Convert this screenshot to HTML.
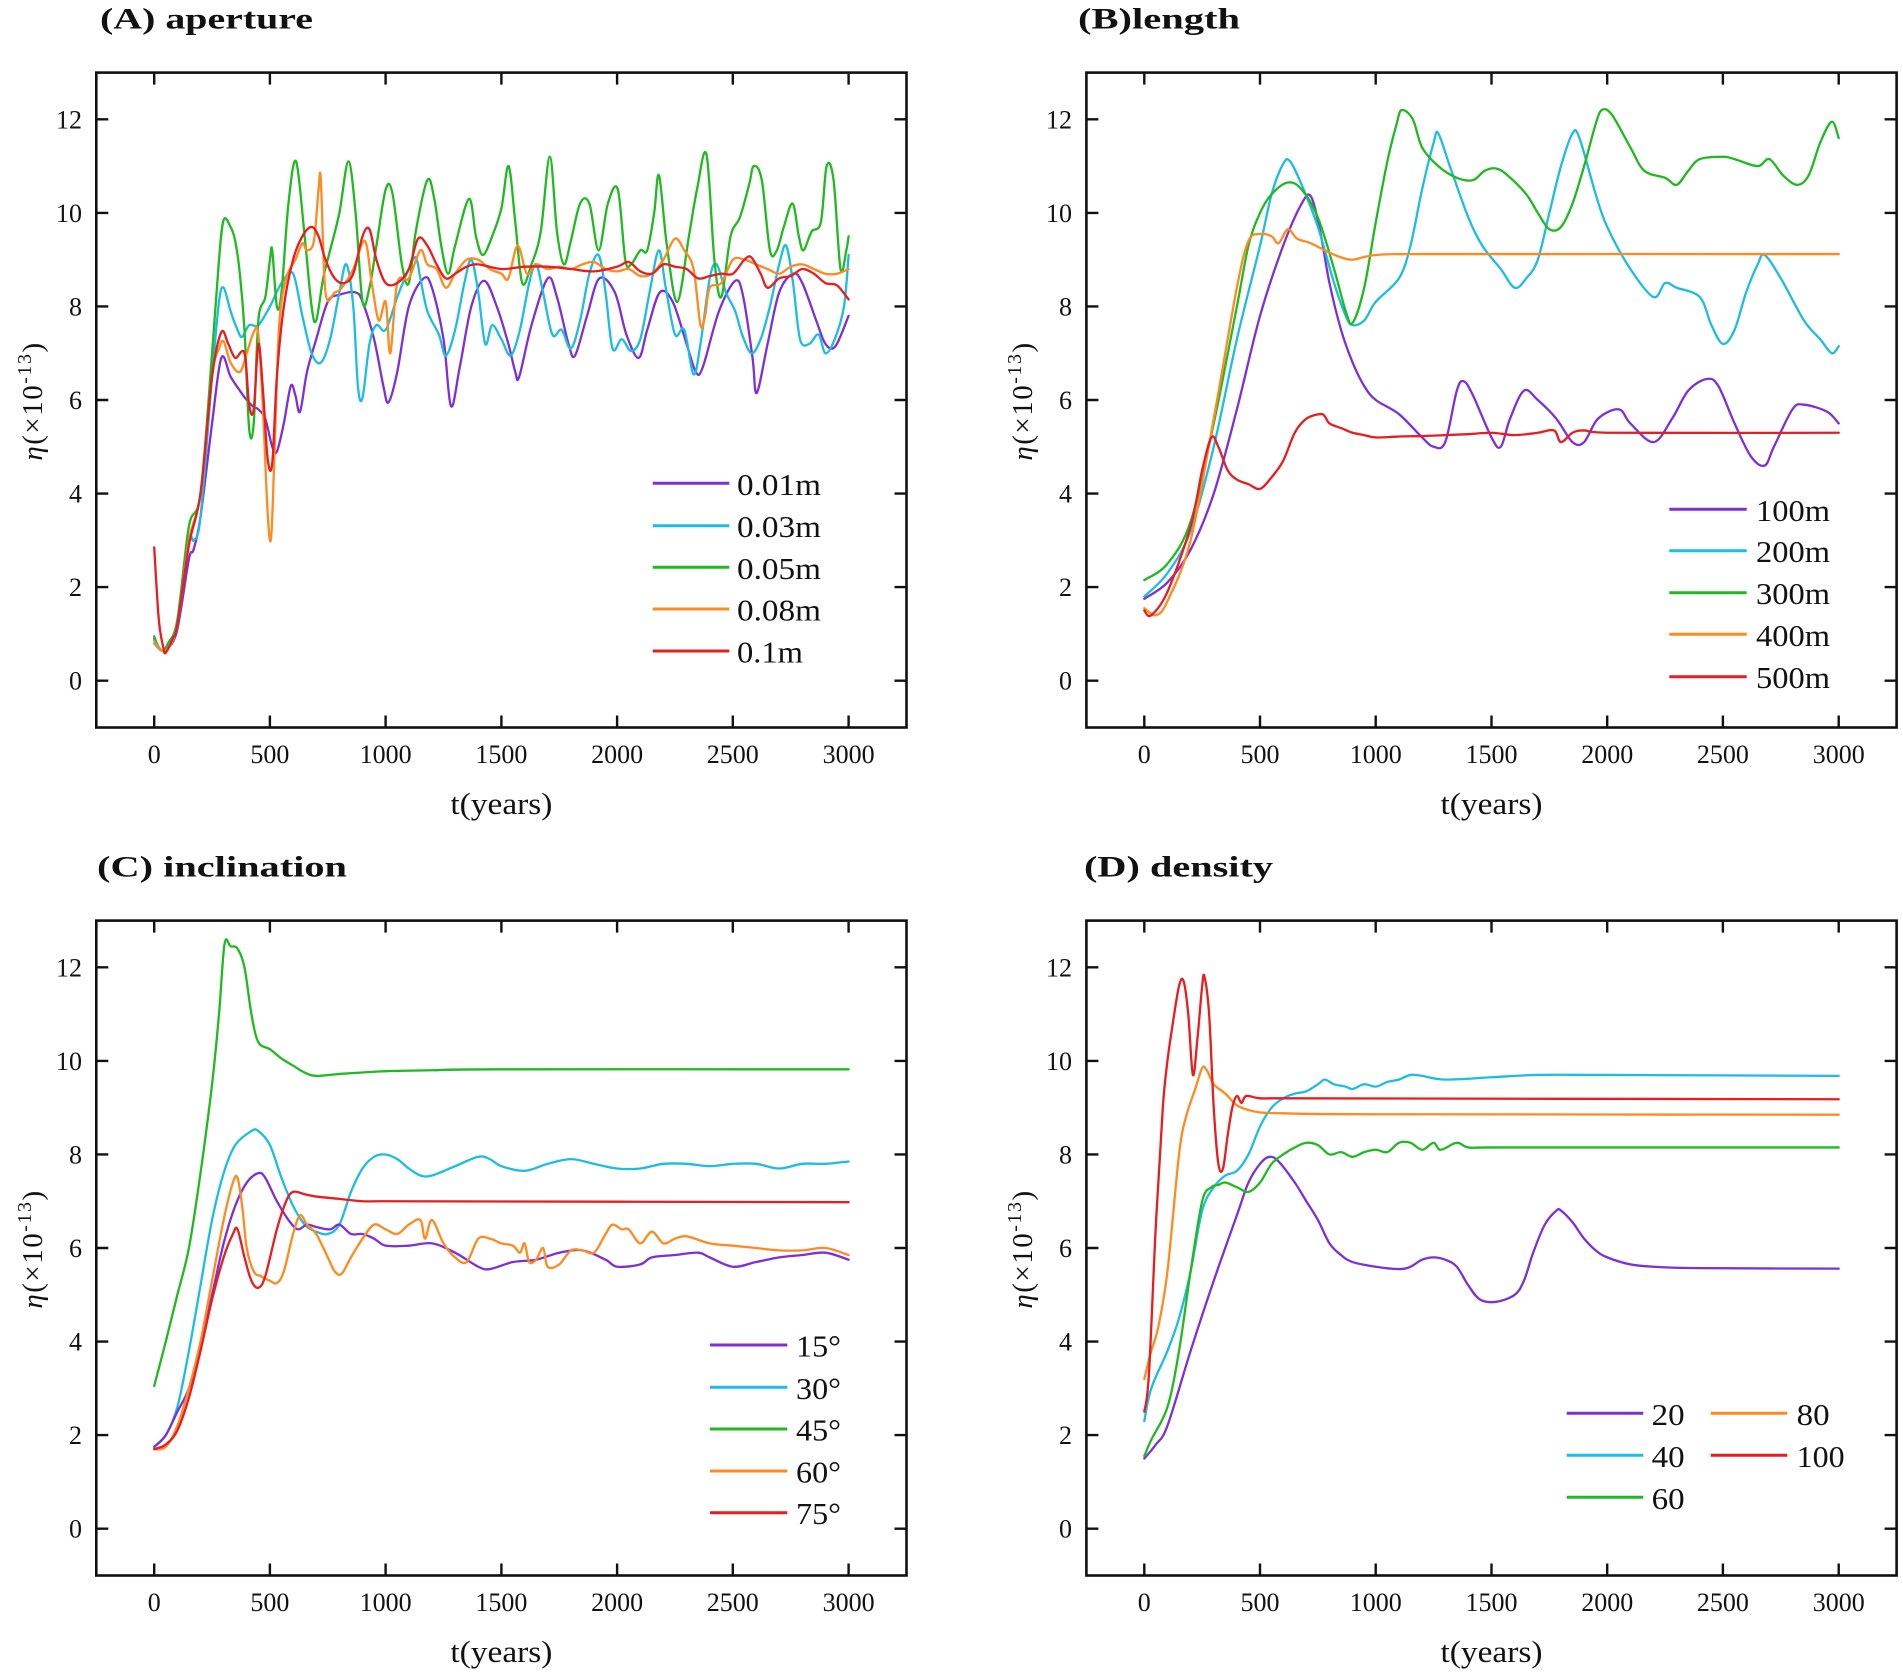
<!DOCTYPE html>
<html>
<head>
<meta charset="utf-8">
<style>
html,body{margin:0;padding:0;background:#fff;}
svg{display:block;}
text{font-family:"Liberation Serif","Times New Roman",serif;fill:#111;}
.ax{fill:none;stroke:#111;stroke-width:2.6;}
.tk{stroke:#111;stroke-width:2.4;}
.c{fill:none;stroke-width:2.3;stroke-linejoin:round;stroke-linecap:round;vector-effect:non-scaling-stroke;}
.lg{stroke-width:3;}
.pu{stroke:#7d2fd8;}
.cy{stroke:#1cbde2;}
.gr{stroke:#1fba1f;}
.or{stroke:#ff8a1f;}
.rd{stroke:#e91c1f;}
.tl{font-size:26px;}
.lt{font-size:31px;}
.ti{font-size:30px;font-weight:bold;}
</style>
</head>
<body>
<svg width="1903" height="1677" viewBox="0 0 1903 1677" xmlns="http://www.w3.org/2000/svg">

<text class="ti" x="100" y="28.5" textLength="213" lengthAdjust="spacingAndGlyphs">(A) aperture</text>
<text class="ti" x="1078" y="28.5" textLength="162" lengthAdjust="spacingAndGlyphs">(B)length</text>
<text class="ti" x="97" y="876.5" textLength="250" lengthAdjust="spacingAndGlyphs">(C) inclination</text>
<text class="ti" x="1084" y="876.5" textLength="189" lengthAdjust="spacingAndGlyphs">(D) density</text>

<rect class="ax" x="96.3" y="72.6" width="810.2" height="654.9"/>
<rect class="ax" x="1086.4" y="72.6" width="810.2" height="654.9"/>
<rect class="ax" x="96.3" y="920.6" width="810.2" height="654.9"/>
<rect class="ax" x="1086.4" y="920.6" width="810.2" height="654.9"/>

<g class="tk">
<path d="M154.2 727.5v-12M269.9 727.5v-12M385.6 727.5v-12M501.4 727.5v-12M617.1 727.5v-12M732.8 727.5v-12M848.6 727.5v-12
M154.2 72.6v12M269.9 72.6v12M385.6 72.6v12M501.4 72.6v12M617.1 72.6v12M732.8 72.6v12M848.6 72.6v12
M96.3 680.7h12M96.3 587.1h12M96.3 493.6h12M96.3 400h12M96.3 306.4h12M96.3 212.9h12M96.3 119.3h12
M906.5 680.7h-12M906.5 587.1h-12M906.5 493.6h-12M906.5 400h-12M906.5 306.4h-12M906.5 212.9h-12M906.5 119.3h-12"/>
<path d="M1144.3 727.5v-12M1260 727.5v-12M1375.7 727.5v-12M1491.5 727.5v-12M1607.2 727.5v-12M1722.9 727.5v-12M1838.7 727.5v-12
M1144.3 72.6v12M1260 72.6v12M1375.7 72.6v12M1491.5 72.6v12M1607.2 72.6v12M1722.9 72.6v12M1838.7 72.6v12
M1086.4 680.7h12M1086.4 587.1h12M1086.4 493.6h12M1086.4 400h12M1086.4 306.4h12M1086.4 212.9h12M1086.4 119.3h12
M1896.6 680.7h-12M1896.6 587.1h-12M1896.6 493.6h-12M1896.6 400h-12M1896.6 306.4h-12M1896.6 212.9h-12M1896.6 119.3h-12"/>
<path d="M154.2 1575.5v-12M269.9 1575.5v-12M385.6 1575.5v-12M501.4 1575.5v-12M617.1 1575.5v-12M732.8 1575.5v-12M848.6 1575.5v-12
M154.2 920.6v12M269.9 920.6v12M385.6 920.6v12M501.4 920.6v12M617.1 920.6v12M732.8 920.6v12M848.6 920.6v12
M96.3 1528.7h12M96.3 1435.1h12M96.3 1341.6h12M96.3 1248h12M96.3 1154.4h12M96.3 1060.9h12M96.3 967.3h12
M906.5 1528.7h-12M906.5 1435.1h-12M906.5 1341.6h-12M906.5 1248h-12M906.5 1154.4h-12M906.5 1060.9h-12M906.5 967.3h-12"/>
<path d="M1144.3 1575.5v-12M1260 1575.5v-12M1375.7 1575.5v-12M1491.5 1575.5v-12M1607.2 1575.5v-12M1722.9 1575.5v-12M1838.7 1575.5v-12
M1144.3 920.6v12M1260 920.6v12M1375.7 920.6v12M1491.5 920.6v12M1607.2 920.6v12M1722.9 920.6v12M1838.7 920.6v12
M1086.4 1528.7h12M1086.4 1435.1h12M1086.4 1341.6h12M1086.4 1248h12M1086.4 1154.4h12M1086.4 1060.9h12M1086.4 967.3h12
M1896.6 1528.7h-12M1896.6 1435.1h-12M1896.6 1341.6h-12M1896.6 1248h-12M1896.6 1154.4h-12M1896.6 1060.9h-12M1896.6 967.3h-12"/>
</g>

<g class="tl" text-anchor="middle">
<text x="154.2" y="763">0</text><text x="269.9" y="763">500</text><text x="385.6" y="763">1000</text><text x="501.4" y="763">1500</text><text x="617.1" y="763">2000</text><text x="732.8" y="763">2500</text><text x="848.6" y="763">3000</text>
<text x="1144.3" y="763">0</text><text x="1260" y="763">500</text><text x="1375.7" y="763">1000</text><text x="1491.5" y="763">1500</text><text x="1607.2" y="763">2000</text><text x="1722.9" y="763">2500</text><text x="1838.7" y="763">3000</text>
<text x="154.2" y="1611">0</text><text x="269.9" y="1611">500</text><text x="385.6" y="1611">1000</text><text x="501.4" y="1611">1500</text><text x="617.1" y="1611">2000</text><text x="732.8" y="1611">2500</text><text x="848.6" y="1611">3000</text>
<text x="1144.3" y="1611">0</text><text x="1260" y="1611">500</text><text x="1375.7" y="1611">1000</text><text x="1491.5" y="1611">1500</text><text x="1607.2" y="1611">2000</text><text x="1722.9" y="1611">2500</text><text x="1838.7" y="1611">3000</text>
</g>
<g class="tl" text-anchor="end">
<text x="82" y="689.7">0</text><text x="82" y="596.1">2</text><text x="82" y="502.6">4</text><text x="82" y="409">6</text><text x="82" y="315.4">8</text><text x="82" y="221.9">10</text><text x="82" y="128.3">12</text>
<text x="1072" y="689.7">0</text><text x="1072" y="596.1">2</text><text x="1072" y="502.6">4</text><text x="1072" y="409">6</text><text x="1072" y="315.4">8</text><text x="1072" y="221.9">10</text><text x="1072" y="128.3">12</text>
<text x="82" y="1537.7">0</text><text x="82" y="1444.1">2</text><text x="82" y="1350.6">4</text><text x="82" y="1257">6</text><text x="82" y="1163.4">8</text><text x="82" y="1069.9">10</text><text x="82" y="976.3">12</text>
<text x="1072" y="1537.7">0</text><text x="1072" y="1444.1">2</text><text x="1072" y="1350.6">4</text><text x="1072" y="1257">6</text><text x="1072" y="1163.4">8</text><text x="1072" y="1069.9">10</text><text x="1072" y="976.3">12</text>
</g>

<g font-size="31" text-anchor="middle">
<text x="501.4" y="814" textLength="102" lengthAdjust="spacingAndGlyphs">t(years)</text>
<text x="1491.5" y="814" textLength="102" lengthAdjust="spacingAndGlyphs">t(years)</text>
<text x="501.4" y="1662" textLength="102" lengthAdjust="spacingAndGlyphs">t(years)</text>
<text x="1491.5" y="1662" textLength="102" lengthAdjust="spacingAndGlyphs">t(years)</text>
</g>
<g font-size="29" text-anchor="middle" letter-spacing="1.5">
<text transform="translate(42,401) rotate(-90)"><tspan font-style="italic">η</tspan>(×10<tspan dy="-11" font-size="20">-13</tspan><tspan dy="11">)</tspan></text>
<text transform="translate(1032,401) rotate(-90)"><tspan font-style="italic">η</tspan>(×10<tspan dy="-11" font-size="20">-13</tspan><tspan dy="11">)</tspan></text>
<text transform="translate(42,1249) rotate(-90)"><tspan font-style="italic">η</tspan>(×10<tspan dy="-11" font-size="20">-13</tspan><tspan dy="11">)</tspan></text>
<text transform="translate(1032,1249) rotate(-90)"><tspan font-style="italic">η</tspan>(×10<tspan dy="-11" font-size="20">-13</tspan><tspan dy="11">)</tspan></text>
</g>

<g transform="translate(154.2,680.7) scale(0.23147,-46.78)">
<polyline class="c pu" points="0,0.9 30,0.65 60,0.7 100,1.1 150,2.6 170,2.8 200,3.5 250,5.5 290,6.9 330,6.5 370,6.2 400,6.0 430,5.85 450,5.8 480,5.6 510,5.0 530,4.9 560,5.5 590,6.3 610,6.1 630,5.75 660,6.6 700,7.3 750,8.1 800,8.25 870,8.3 900,8.1 950,7.3 990,6.3 1012,5.95 1050,6.6 1100,8.0 1164,8.6 1200,8.4 1250,7.3 1282,5.87 1320,6.7 1370,8.0 1425,8.55 1480,8.0 1530,7.2 1560,6.6 1577,6.5 1630,7.6 1700,8.6 1740,8.2 1790,7.2 1818,6.95 1870,7.8 1923,8.6 1990,8.3 2040,7.4 2093,6.9 2130,7.5 2184,8.3 2240,8.1 2300,7.2 2340,6.6 2370,6.7 2440,7.9 2511,8.55 2545,8.2 2585,6.9 2603,6.15 2650,7.2 2700,8.3 2760,8.7 2800,8.5 2860,7.7 2900,7.2 2943,7.15 3000,7.8"/>
<polyline class="c cy" points="0,0.8 30,0.65 60,0.7 100,1.2 150,3.0 170,3.0 200,3.5 250,6.5 280,8.1 300,8.4 330,7.9 360,7.5 380,7.35 410,7.6 450,7.6 500,8.0 550,8.5 600,8.7 640,7.8 680,7.0 720,6.8 760,7.3 800,8.3 830,8.9 860,8.0 880,6.3 900,6.05 930,7.2 960,7.6 1000,7.5 1050,8.2 1100,8.8 1130,9.05 1150,8.6 1180,7.9 1230,7.4 1260,6.95 1300,7.5 1340,8.5 1370,9.0 1400,8.3 1430,7.2 1460,7.6 1500,7.3 1540,6.95 1580,7.5 1620,8.5 1650,8.9 1680,8.3 1720,7.4 1760,7.5 1800,7.1 1840,7.7 1880,8.7 1920,9.1 1950,8.3 1980,7.1 2020,7.3 2060,7.05 2100,7.3 2140,8.3 2180,9.2 2210,8.4 2250,7.4 2290,7.5 2330,6.55 2360,7.2 2400,8.6 2430,8.9 2470,8.3 2510,7.9 2540,7.4 2580,7.0 2620,7.3 2660,8.0 2700,8.9 2730,9.3 2760,8.5 2790,7.3 2830,7.2 2870,7.4 2900,7.0 2940,7.3 2980,8.0 3000,9.1"/>
<polyline class="c gr" points="0,0.95 20,0.7 40,0.65 60,0.8 100,1.3 150,3.3 200,4.0 250,7.0 280,9.0 300,9.85 330,9.7 350,9.4 370,8.7 390,7.5 410,5.4 430,5.5 450,7.7 480,8.2 500,9.0 510,9.2 530,8.0 550,8.3 580,10.2 613,11.1 650,9.5 680,8.0 700,7.7 730,8.6 760,9.2 800,10.0 839,11.1 870,10.0 900,8.1 930,8.4 960,9.3 1000,10.5 1030,10.4 1070,8.9 1100,8.5 1130,9.6 1180,10.7 1210,10.3 1240,9.3 1270,8.7 1300,9.3 1360,10.3 1390,9.5 1420,9.1 1460,9.5 1500,10.1 1531,11.0 1560,9.8 1590,8.5 1630,8.9 1670,9.6 1709,11.2 1740,9.6 1770,8.9 1800,9.4 1840,10.2 1880,10.2 1920,9.2 1960,10.2 2003,10.5 2035,9.0 2060,8.9 2100,9.2 2130,9.2 2160,10.0 2181,10.8 2215,9.3 2260,8.1 2310,9.5 2345,10.5 2386,11.25 2420,9.0 2450,8.2 2490,9.5 2530,9.9 2570,10.6 2590,11.0 2625,10.7 2660,9.2 2690,9.2 2720,9.7 2758,10.2 2785,9.5 2805,9.2 2840,9.6 2880,9.8 2905,11.0 2935,10.7 2965,8.8 2990,9.2 3000,9.5"/>
<polyline class="c or" points="0,0.85 30,0.65 60,0.7 100,1.2 150,3.0 200,4.0 250,6.5 280,7.1 300,7.25 330,6.8 370,6.6 400,7.0 430,7.45 450,7.4 470,5.8 490,3.6 505,3.05 520,4.9 540,7.6 570,8.6 610,9.0 640,9.35 660,9.2 690,9.4 710,10.5 720,10.7 740,8.3 780,8.3 810,8.4 860,8.8 910,9.4 940,8.5 970,7.7 1000,8.1 1020,7.0 1050,8.5 1100,8.6 1150,9.2 1180,8.9 1220,8.8 1260,8.4 1300,8.7 1350,9.0 1400,9.0 1450,8.8 1500,8.7 1530,8.6 1570,9.3 1610,8.7 1650,8.9 1700,8.8 1750,8.85 1800,8.8 1850,8.9 1900,8.95 1950,8.8 2000,8.75 2050,8.8 2100,8.65 2150,8.7 2200,9.0 2250,9.45 2290,9.2 2330,8.8 2360,7.6 2380,7.8 2400,8.4 2450,8.5 2500,9.0 2550,9.0 2600,8.9 2650,8.8 2700,8.7 2750,8.85 2800,8.9 2850,8.8 2900,8.7 2950,8.7 3000,8.8"/>
<polyline class="c rd" points="0,2.85 20,1.3 40,0.7 50,0.6 80,0.9 100,1.2 150,2.9 200,4.0 250,6.5 290,7.45 320,7.2 350,6.9 390,7.0 410,5.9 430,5.8 450,7.2 470,6.2 490,4.75 510,4.65 530,6.5 560,8.0 600,9.0 640,9.5 680,9.7 710,9.5 740,9.0 780,8.6 820,8.5 860,8.7 900,9.5 930,9.65 960,9.0 1000,8.5 1050,8.5 1100,8.8 1140,9.45 1180,9.3 1220,8.9 1260,8.6 1300,8.7 1350,8.85 1400,8.9 1500,8.8 1600,8.85 1700,8.85 1800,8.8 1900,8.75 2000,8.85 2050,8.95 2100,8.75 2150,8.7 2200,8.9 2250,8.85 2300,8.8 2350,8.6 2400,8.65 2450,8.7 2500,8.7 2550,9.0 2580,9.05 2620,8.7 2650,8.4 2700,8.6 2750,8.65 2800,8.8 2850,8.7 2900,8.5 2950,8.45 3000,8.15"/>
</g>

<g transform="translate(1144.3,680.7) scale(0.23147,-46.78)">
<polyline class="c pu" points="0,1.75 100,2.1 200,2.8 300,4.0 400,5.8 500,7.8 600,9.3 680,10.2 720,10.35 760,9.6 800,8.5 850,7.5 900,6.8 950,6.3 1000,6.0 1100,5.7 1200,5.2 1250,5.0 1300,5.1 1350,6.2 1380,6.4 1420,6.1 1500,5.2 1540,5.0 1580,5.6 1640,6.2 1700,6.0 1780,5.6 1850,5.1 1900,5.1 1960,5.6 2050,5.8 2100,5.5 2200,5.1 2280,5.6 2350,6.2 2430,6.45 2480,6.3 2550,5.5 2620,4.8 2680,4.6 2720,5.0 2800,5.8 2850,5.9 2950,5.75 3000,5.5"/>
<polyline class="c cy" points="0,1.8 100,2.3 200,3.2 300,5.0 400,7.3 500,9.3 550,10.4 600,11.05 630,11.1 680,10.6 750,9.7 820,8.5 870,7.8 900,7.6 950,7.7 1000,8.1 1100,8.6 1150,9.3 1200,10.5 1250,11.5 1270,11.7 1320,11.0 1400,9.9 1460,9.3 1540,8.8 1600,8.4 1650,8.6 1700,9.0 1750,10.0 1800,11.0 1850,11.7 1880,11.6 1950,10.4 2000,9.7 2100,8.8 2200,8.2 2250,8.5 2300,8.4 2400,8.2 2450,7.6 2500,7.2 2550,7.5 2600,8.3 2650,8.9 2680,9.1 2750,8.6 2850,7.7 2920,7.3 2970,7.0 3000,7.15"/>
<polyline class="c gr" points="0,2.15 100,2.5 200,3.4 300,5.5 400,8.0 450,9.3 500,10.0 550,10.4 620,10.65 680,10.5 750,9.9 820,8.8 870,7.9 900,7.65 950,8.4 1000,9.8 1050,11.1 1090,11.9 1112,12.2 1160,12.0 1200,11.4 1270,11.0 1350,10.75 1420,10.7 1470,10.9 1520,10.95 1570,10.8 1650,10.4 1700,10.0 1750,9.65 1800,9.7 1850,10.2 1900,11.0 1950,11.9 1977,12.2 2020,12.1 2100,11.4 2160,10.9 2250,10.75 2300,10.6 2350,10.9 2400,11.15 2500,11.2 2550,11.15 2650,11.0 2700,11.15 2760,10.8 2820,10.6 2870,10.8 2920,11.5 2970,11.95 3000,11.6"/>
<polyline class="c or" points="0,1.55 50,1.4 100,1.7 200,3.0 300,5.6 400,8.4 450,9.4 500,9.55 550,9.5 580,9.35 620,9.65 660,9.45 720,9.35 800,9.15 850,9.05 900,9.0 1000,9.1 1200,9.12 3000,9.12"/>
<polyline class="c rd" points="0,1.5 30,1.4 100,1.9 200,3.3 250,4.5 290,5.2 320,5.0 360,4.5 400,4.3 450,4.2 500,4.1 550,4.35 600,4.7 650,5.3 700,5.6 760,5.7 780,5.65 800,5.5 850,5.4 900,5.3 950,5.25 1000,5.2 1100,5.22 1200,5.23 1300,5.25 1400,5.27 1500,5.3 1600,5.25 1700,5.3 1770,5.35 1800,5.1 1850,5.3 1900,5.35 2000,5.3 3000,5.3"/>
</g>

<g transform="translate(154.2,1528.7) scale(0.23147,-46.78)">
<polyline class="c gr" points="0,3.05 50,4.0 100,5.0 150,6.0 200,7.6 250,9.5 280,11.0 304,12.5 330,12.45 360,12.4 390,12.0 420,11.0 450,10.4 500,10.25 550,10.05 600,9.9 650,9.75 700,9.68 800,9.72 1000,9.78 1200,9.8 1500,9.82 3000,9.82"/>
<polyline class="c cy" points="0,1.75 50,2.0 100,2.6 150,3.8 200,5.2 250,6.6 300,7.6 350,8.2 420,8.5 450,8.5 500,8.2 550,7.5 600,6.9 650,6.5 700,6.35 750,6.3 800,6.5 850,7.2 900,7.7 950,7.95 1000,8.0 1050,7.9 1100,7.7 1150,7.55 1200,7.55 1300,7.75 1400,7.95 1450,7.9 1500,7.75 1600,7.65 1700,7.8 1800,7.9 1900,7.8 2000,7.7 2100,7.7 2200,7.8 2300,7.8 2400,7.75 2500,7.8 2600,7.8 2700,7.7 2800,7.8 2900,7.8 3000,7.85"/>
<polyline class="c pu" points="0,1.75 50,2.0 100,2.5 150,3.0 200,3.9 250,5.0 300,6.1 350,6.9 400,7.4 450,7.6 480,7.5 530,7.0 580,6.6 620,6.4 660,6.5 700,6.45 760,6.4 800,6.5 850,6.3 900,6.3 950,6.2 1000,6.05 1100,6.05 1200,6.1 1300,5.9 1400,5.6 1450,5.55 1550,5.7 1650,5.75 1750,5.9 1850,5.95 1950,5.75 2000,5.6 2100,5.65 2150,5.8 2250,5.85 2350,5.9 2400,5.8 2500,5.6 2600,5.7 2700,5.8 2800,5.85 2900,5.9 3000,5.75"/>
<polyline class="c or" points="0,1.7 50,1.75 100,2.2 150,3.0 200,4.0 250,5.3 300,6.6 340,7.4 360,7.5 380,6.9 400,6.0 430,5.5 460,5.4 500,5.3 530,5.25 560,5.5 600,6.3 630,6.7 660,6.5 700,6.3 750,5.8 780,5.5 810,5.45 850,5.8 900,6.2 950,6.5 1000,6.4 1050,6.3 1100,6.5 1150,6.6 1170,6.2 1200,6.6 1250,6.1 1300,5.8 1350,5.7 1400,6.2 1450,6.2 1500,6.1 1550,6.05 1580,5.9 1600,6.1 1620,5.7 1650,5.75 1680,6.0 1700,5.6 1750,5.65 1800,5.95 1850,5.95 1900,5.9 1950,6.3 1980,6.5 2020,6.4 2050,6.4 2100,6.1 2150,6.35 2200,6.1 2250,6.2 2300,6.25 2400,6.1 2500,6.05 2600,6.0 2700,5.95 2800,5.95 2900,6.0 3000,5.85"/>
<polyline class="c rd" points="0,1.7 50,1.8 100,2.1 150,2.8 200,3.8 250,4.9 300,5.8 340,6.3 360,6.4 390,5.8 420,5.3 450,5.15 480,5.4 530,6.4 570,7.0 600,7.2 650,7.15 700,7.1 800,7.05 900,7.0 1000,7.0 3000,6.98"/>
</g>

<g transform="translate(1144.3,1528.7) scale(0.23147,-46.78)">
<polyline class="c pu" points="0,1.5 50,1.8 100,2.2 200,3.8 300,5.3 400,6.7 450,7.4 500,7.8 540,7.95 580,7.85 650,7.4 700,7.0 750,6.6 800,6.1 850,5.85 900,5.7 1000,5.6 1100,5.55 1150,5.6 1200,5.75 1250,5.8 1300,5.75 1350,5.6 1400,5.2 1450,4.9 1520,4.85 1600,5.0 1640,5.3 1680,5.9 1730,6.5 1780,6.8 1800,6.8 1850,6.55 1900,6.2 1950,5.95 2000,5.8 2100,5.65 2200,5.6 2400,5.57 3000,5.56"/>
<polyline class="c cy" points="0,2.3 30,3.0 100,3.8 150,4.5 200,5.5 250,6.8 300,7.3 350,7.55 400,7.65 450,8.0 500,8.6 550,9.0 600,9.2 650,9.3 700,9.35 750,9.5 780,9.6 820,9.5 870,9.45 900,9.4 950,9.5 1000,9.45 1050,9.55 1100,9.6 1150,9.7 1200,9.68 1300,9.6 1500,9.65 1700,9.7 2000,9.7 3000,9.68"/>
<polyline class="c gr" points="0,1.55 30,1.9 100,2.6 150,3.8 200,5.5 250,7.0 290,7.3 320,7.35 350,7.4 400,7.3 450,7.2 500,7.4 550,7.8 600,8.0 650,8.15 700,8.25 750,8.2 800,8.0 850,8.05 900,7.95 950,8.05 1000,8.1 1050,8.05 1100,8.25 1150,8.25 1200,8.1 1250,8.25 1280,8.1 1350,8.25 1400,8.15 1500,8.15 2000,8.15 3000,8.15"/>
<polyline class="c or" points="0,3.2 30,3.8 60,4.3 100,5.5 150,8.0 180,8.8 220,9.4 250,9.85 270,9.8 300,9.5 350,9.3 400,9.05 450,8.95 500,8.9 600,8.88 1000,8.86 3000,8.85"/>
<polyline class="c rd" points="0,2.5 20,3.3 50,6.5 80,9.0 100,10.0 120,10.7 150,11.6 170,11.7 190,11.0 210,9.7 230,10.5 250,11.6 260,11.8 280,11.0 300,9.0 320,7.8 340,7.7 360,8.4 380,9.0 400,9.25 420,9.1 440,9.25 500,9.2 600,9.2 3000,9.18"/>
</g>

<line class="lg pu" x1="652.7" y1="483.3" x2="729.3" y2="483.3"/>
<line class="lg cy" x1="652.7" y1="525.7" x2="729.3" y2="525.7"/>
<line class="lg gr" x1="652.7" y1="567.3" x2="729.3" y2="567.3"/>
<line class="lg or" x1="652.7" y1="609" x2="729.3" y2="609"/>
<line class="lg rd" x1="652.7" y1="651" x2="729.3" y2="651"/>
<g class="lt">
<text x="737" y="494.8" textLength="84" lengthAdjust="spacingAndGlyphs">0.01m</text>
<text x="737" y="537.2" textLength="84" lengthAdjust="spacingAndGlyphs">0.03m</text>
<text x="737" y="578.8" textLength="84" lengthAdjust="spacingAndGlyphs">0.05m</text>
<text x="737" y="620.5" textLength="84" lengthAdjust="spacingAndGlyphs">0.08m</text>
<text x="737" y="662.5" textLength="66" lengthAdjust="spacingAndGlyphs">0.1m</text>
</g>
<line class="lg pu" x1="1669.3" y1="509.3" x2="1746.7" y2="509.3"/>
<line class="lg cy" x1="1669.3" y1="550.7" x2="1746.7" y2="550.7"/>
<line class="lg gr" x1="1669.3" y1="592.7" x2="1746.7" y2="592.7"/>
<line class="lg or" x1="1669.3" y1="634.3" x2="1746.7" y2="634.3"/>
<line class="lg rd" x1="1669.3" y1="676.7" x2="1746.7" y2="676.7"/>
<g class="lt">
<text x="1756" y="520.8" textLength="74" lengthAdjust="spacingAndGlyphs">100m</text>
<text x="1756" y="562.2" textLength="74" lengthAdjust="spacingAndGlyphs">200m</text>
<text x="1756" y="604.2" textLength="74" lengthAdjust="spacingAndGlyphs">300m</text>
<text x="1756" y="645.8" textLength="74" lengthAdjust="spacingAndGlyphs">400m</text>
<text x="1756" y="688.2" textLength="74" lengthAdjust="spacingAndGlyphs">500m</text>
</g>
<line class="lg pu" x1="710" y1="1345" x2="787.3" y2="1345"/>
<line class="lg cy" x1="710" y1="1387.3" x2="787.3" y2="1387.3"/>
<line class="lg gr" x1="710" y1="1429" x2="787.3" y2="1429"/>
<line class="lg or" x1="710" y1="1471" x2="787.3" y2="1471"/>
<line class="lg rd" x1="710" y1="1512.7" x2="787.3" y2="1512.7"/>
<g class="lt">
<text x="796" y="1356.5" textLength="45" lengthAdjust="spacingAndGlyphs">15°</text>
<text x="796" y="1398.8" textLength="45" lengthAdjust="spacingAndGlyphs">30°</text>
<text x="796" y="1440.5" textLength="45" lengthAdjust="spacingAndGlyphs">45°</text>
<text x="796" y="1482.5" textLength="45" lengthAdjust="spacingAndGlyphs">60°</text>
<text x="796" y="1524.2" textLength="45" lengthAdjust="spacingAndGlyphs">75°</text>
</g>
<line class="lg pu" x1="1566.7" y1="1413.3" x2="1643.3" y2="1413.3"/>
<line class="lg cy" x1="1566.7" y1="1455.3" x2="1643.3" y2="1455.3"/>
<line class="lg gr" x1="1566.7" y1="1497.3" x2="1643.3" y2="1497.3"/>
<line class="lg or" x1="1710.7" y1="1413.3" x2="1787.3" y2="1413.3"/>
<line class="lg rd" x1="1710.7" y1="1455.3" x2="1787.3" y2="1455.3"/>
<g class="lt">
<text x="1651.7" y="1424.8" textLength="33" lengthAdjust="spacingAndGlyphs">20</text>
<text x="1651.7" y="1466.8" textLength="33" lengthAdjust="spacingAndGlyphs">40</text>
<text x="1651.7" y="1508.8" textLength="33" lengthAdjust="spacingAndGlyphs">60</text>
<text x="1796.7" y="1424.8" textLength="33" lengthAdjust="spacingAndGlyphs">80</text>
<text x="1796.7" y="1466.8" textLength="48" lengthAdjust="spacingAndGlyphs">100</text>
</g>

</svg>
<script>
(function(){
  try{
    var NS="http://www.w3.org/2000/svg";
    var pls=document.querySelectorAll("polyline.c");
    for(var k=0;k<pls.length;k++){
      var pl=pls[k];
      var raw=pl.getAttribute("points").trim().split(/\s+/);
      var pts=[];
      for(var i=0;i<raw.length;i++){var a=raw[i].split(",");pts.push([parseFloat(a[0]),parseFloat(a[1])]);}
      if(pts.length<3) continue;
      var d="M"+pts[0][0]+","+pts[0][1];
      var t=1/6;
      for(var i=0;i<pts.length-1;i++){
        var p0=pts[i>0?i-1:i],p1=pts[i],p2=pts[i+1],p3=pts[i+2<pts.length?i+2:i+1];
        var c1x=p1[0]+(p2[0]-p0[0])*t, c1y=p1[1]+(p2[1]-p0[1])*t;
        var c2x=p2[0]-(p3[0]-p1[0])*t, c2y=p2[1]-(p3[1]-p1[1])*t;
        if(c1x<p1[0])c1x=p1[0]; if(c1x>p2[0])c1x=p2[0];
        if(c2x<p1[0])c2x=p1[0]; if(c2x>p2[0])c2x=p2[0];
        d+=" C"+c1x.toFixed(2)+","+c1y.toFixed(3)+" "+c2x.toFixed(2)+","+c2y.toFixed(3)+" "+p2[0]+","+p2[1];
      }
      var p=document.createElementNS(NS,"path");
      p.setAttribute("d",d);
      p.setAttribute("class",pl.getAttribute("class"));
      pl.parentNode.replaceChild(p,pl);
    }
  }catch(e){}
})();
</script>
</body>
</html>
